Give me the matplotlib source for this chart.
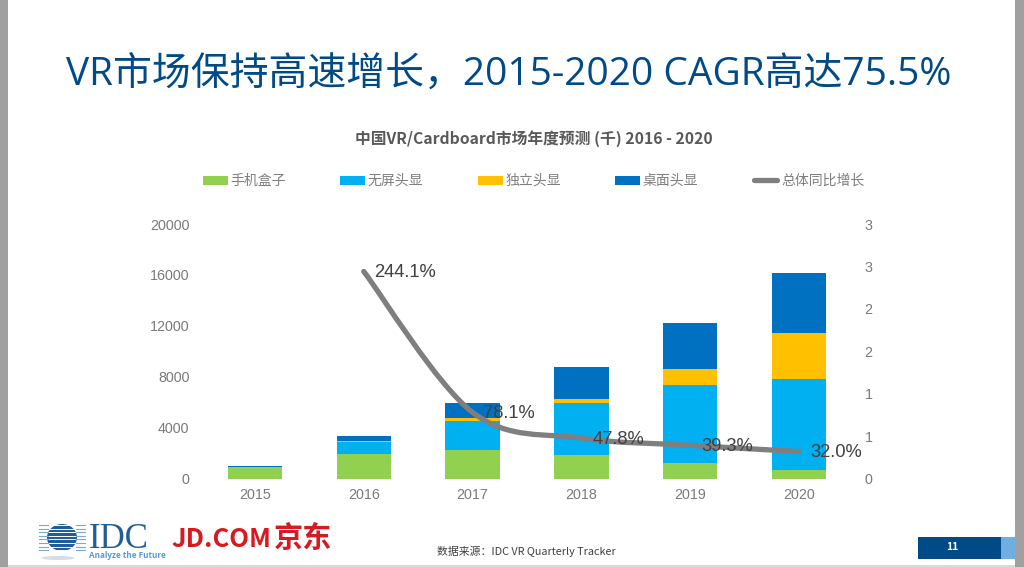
import matplotlib
matplotlib.use('Agg')
import matplotlib.pyplot as plt
import numpy as np
from matplotlib.patches import Rectangle, Ellipse, PathPatch
from matplotlib.path import Path

years = ['2015', '2016', '2017', '2018', '2019', '2020']
phone_box = [880, 1960, 2230, 1885, 1260, 680]
tethered = [0, 940, 2320, 4035, 6120, 7150]
standalone = [0, 80, 220, 310, 1210, 3630]
desktop = [120, 370, 1150, 2560, 3630, 4670]
growth = [2.441, 0.781, 0.478, 0.393, 0.320]
growth_labels = ['244.1%', '78.1%', '47.8%', '39.3%', '32.0%']
series_names = ['手机盒子', '无屏头显', '独立头显', '桌面头显']
line_name = '总体同比增长'
left_ticks = [0, 4000, 8000, 12000, 16000, 20000]
right_ticks = [0, 0.5, 1, 1.5, 2, 2.5, 3]
right_tick_labels = ['0', '1', '1', '2', '2', '3', '3']

# Colors
green = '#92D050'
sky = '#00B0F0'
amber = '#FFC000'
blue = '#0070C0'
gray_line = '#7F7F7F'
navy = '#004B87'
tick_color = '#7A7A7A'

plt.rcParams['font.family'] = ['Noto Sans CJK SC', 'DejaVu Sans']

W, H = 1024, 567
fig = plt.figure(figsize=(W / 100, H / 100), dpi=100, facecolor='white')


def px_axes(left, top, right, bottom):
    return fig.add_axes([left / W, 1 - bottom / H, (right - left) / W, (bottom - top) / H])


# Full-figure layer in pixel coordinates for the slide furniture
bg = fig.add_axes([0, 0, 1, 1])
bg.set_xlim(0, W)
bg.set_ylim(H, 0)
bg.axis('off')
bg.add_patch(Rectangle((0, 0), 8, H, color='#A0A0A0', lw=0))
bg.add_patch(Rectangle((1015, 0), 9, H, color='#A0A0A0', lw=0))
bg.add_patch(Rectangle((8, 565), 1007, 2, color='#D9D9D9', lw=0))

bg.text(508.5, 75, 'VR市场保持高速增长，2015-2020 CAGR高达75.5%', color=navy, fontsize=28,
        ha='center', va='center', family=['Open Sans', 'Noto Sans CJK SC'])
bg.text(533.5, 139, '中国VR/Cardboard市场年度预测 (千) 2016 - 2020', color='#595959', fontsize=11.35,
        ha='center', va='center', fontweight='bold')

# Main chart
ax = px_axes(200.5, 224, 853.5, 478.7)
ax.patch.set_alpha(0)
x = np.arange(len(years))
bottom = np.zeros(len(years))
for values, color in zip([phone_box, tethered, standalone, desktop], [green, sky, amber, blue]):
    ax.bar(x, values, 0.5, bottom=bottom, color=color, edgecolor='none', zorder=2)
    bottom += np.array(values)
ax.set_xlim(-0.5, 5.5)
ax.set_ylim(0, 20000)
ax.set_xticks(x, years)
ax.set_yticks(left_ticks)
ax.tick_params(length=0, labelcolor=tick_color, labelsize=10.3, pad=7)
ax.tick_params(axis='y', pad=8)
for s in ax.spines.values():
    s.set_visible(False)
for lab in ax.get_xticklabels() + ax.get_yticklabels():
    lab.set_family('Liberation Sans')

# Secondary axis with the smoothed growth line
ax2 = ax.twinx()
ax2.set_ylim(0, 3)
ax2.set_yticks(right_ticks, right_tick_labels)
ax2.tick_params(length=0, labelcolor=tick_color, labelsize=10.3, pad=8)
for s in ax2.spines.values():
    s.set_visible(False)
for lab in ax2.get_yticklabels():
    lab.set_family('Liberation Sans')

lx = x[1:].astype(float)
ly = np.array(growth)
verts = [(lx[0], ly[0])]
codes = [Path.MOVETO]
for i in range(len(lx) - 1):
    # same kind of spline smoothing office charts use
    p0 = i - 1 if i > 0 else i
    p3 = i + 2 if i + 2 < len(lx) else i + 1
    c1 = (lx[i] + (lx[i + 1] - lx[p0]) / 6, ly[i] + (ly[i + 1] - ly[p0]) / 6)
    c2 = (lx[i + 1] - (lx[p3] - lx[i]) / 6, ly[i + 1] - (ly[p3] - ly[i]) / 6)
    verts += [c1, c2, (lx[i + 1], ly[i + 1])]
    codes += [Path.CURVE4] * 3
ax2.add_patch(PathPatch(Path(verts, codes), fc='none', ec=gray_line, lw=3.8, capstyle='round', zorder=5))
for xi, yi, txt in zip(lx, ly, growth_labels):
    ax2.annotate(txt, (xi, yi), xytext=(7.8, -1), textcoords='offset points', ha='left', va='center',
                 color='#404040', fontsize=13.2, family='Liberation Sans', zorder=6)

# Legend, placed by hand to keep the wide spacing
legend_x = [203, 340, 478, 615]
for lx0, name, color in zip(legend_x, series_names, [green, sky, amber, blue]):
    bg.add_patch(Rectangle((lx0, 176), 25, 9, color=color, lw=0))
    bg.text(lx0 + 27.5, 180.5, name, color='#7F7F7F', fontsize=10, ha='left', va='center')
bg.plot([754, 777], [180, 180], color=gray_line, lw=3.8, solid_capstyle='round')
bg.text(781, 180.5, line_name, color='#7F7F7F', fontsize=10, ha='left', va='center')

# Footer
bg.text(437, 551.5, '数据来源：IDC VR Quarterly Tracker', color='#404040', fontsize=7.8, ha='left', va='center')
bg.add_patch(Rectangle((918, 537), 83, 22, color=navy, lw=0))
bg.add_patch(Rectangle((1001, 537), 14, 22, color='#6FAEE0', lw=0))
bg.text(952, 547.5, '11', color='white', fontsize=7.5, ha='center', va='center', fontweight='bold')

# IDC logo
bg.add_patch(Ellipse((62, 537.5), 30, 27, color='#1F5F99', lw=0))
for ly0 in np.arange(525, 551, 3.6):
    bg.plot([39, 85], [ly0, ly0], color='white', lw=0.7)
    bg.plot([39, 48], [ly0, ly0], color='#7FA8D0', lw=0.8)
    bg.plot([76, 85], [ly0, ly0], color='#7FA8D0', lw=0.8)
bg.add_patch(Ellipse((58, 558), 33, 4, color='#D5DEE8', lw=0))
bg.text(89, 548, 'IDC', color='#1F5F99', fontsize=25, ha='left', va='baseline', family='Liberation Serif')
bg.text(89, 556, 'Analyze the Future', color='#5B9BD5', fontsize=5.9, ha='left', va='center',
        fontweight='bold', family='Open Sans')
bg.text(171, 547, 'JD.COM', color='#D71920', fontsize=18.5, ha='left', va='baseline', fontweight='bold')
bg.text(274, 547, '京东', color='#D71920', fontsize=21, ha='left', va='baseline', fontweight='bold')

fig.savefig('out.png', dpi=100)
